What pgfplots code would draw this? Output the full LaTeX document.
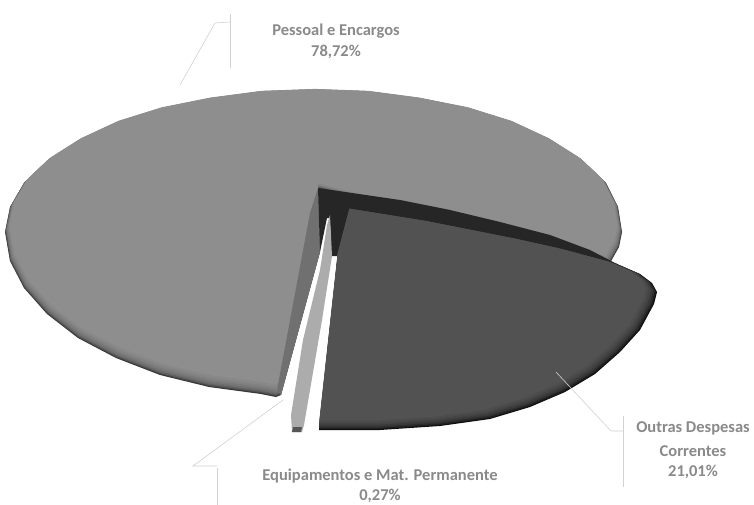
\documentclass[border=0pt]{standalone}
\usepackage{fontspec}
\setmainfont{Carlito}
\usepackage{pgfplots}
\usepackage{pgfplotstable}
\pgfplotsset{compat=1.18}
\pgfplotstableread{
x y
315 90
369 92
421 99
470 109
514 123
552 141
583 161
606 183
618 207
622 232
619 247
610 263
318 188
320 252
281 395
276 397
261 394
209 387
160 375
116 358
78 338
47 314
24 288
10 261
5 232
10 207
24 183
47 161
78 141
116 123
160 109
209 99
261 92
}\mainslice
\pgfplotstableread{
x y
350 209
430 222
520 240
565 250
617 264
640 274
652 283
657 292
654 304
640 330
620 352
595 374
565 392
530 407
490 419
440 426
380 430
319 430
338 255
}\otherslice
\definecolor{lab}{gray}{0.54}
\definecolor{lead}{gray}{0.82}
\newcommand{\mainlayer}[2]{\addplot[fill={rgb,255:red,#2;green,#2;blue,#2},draw=none] table[x expr={310+(1-0.4*#1)*(\thisrow{x}-310)},y expr={60+(1-#1)*(\thisrow{y}-60)}] {\mainslice} -- cycle;}
\newcommand{\otherlayer}[2]{\addplot[fill={rgb,255:red,#2;green,#2;blue,#2},draw=none] table[x expr={330+(1-0.8*#1)*(\thisrow{x}-330)},y expr={200+(1-#1)*(\thisrow{y}-200)}] {\otherslice} -- cycle;}
\tikzset{lbl/.style={lab,inner sep=0pt,font=\fontsize{16.5pt}{18pt}\selectfont\bfseries}}
\begin{document}
\begin{tikzpicture}
\begin{axis}[hide axis,scale only axis,width=754pt,height=505pt,xmin=0,xmax=754,ymin=0,ymax=505,y dir=reverse,clip=true]
% full-size white ground, so that the page keeps the whole frame
\addplot[fill=white,draw=none] coordinates {(0,0) (754,0) (754,505) (0,505)} -- cycle;
% main slice with darkened rim
\mainlayer{0}{55}
\mainlayer{0.003}{75}
\mainlayer{0.006}{95}
\mainlayer{0.010}{110}
\mainlayer{0.015}{120}
\mainlayer{0.021}{129}
\mainlayer{0.028}{136}
\mainlayer{0.036}{142}
% wedge side face of main slice
\addplot[fill={rgb,255:red,112;green,112;blue,112},draw=none] coordinates {(318,188) (320,252) (281,395) (277,390) (310,213)} -- cycle;
% black inner wall
\addplot[fill={rgb,255:red,38;green,38;blue,38},draw=none] coordinates {(318,188) (400,200) (450,210) (500,222) (550,235) (590,250) (617,264) (570,251) (520,241) (450,226) (350,209) (341,256) (331,256) (330,218) (327,218) (320,252)} -- cycle;
% thin slice
\addplot[fill={rgb,255:red,172;green,172;blue,172},draw=none] coordinates {(330,215) (332,256) (322,320) (304,425) (302,432) (292,432) (291,415) (303,340) (320,270) (327,225)} -- cycle;
\addplot[fill={rgb,255:red,85;green,85;blue,85},draw=none] coordinates {(293,427) (302,427) (301,432) (292,432)} -- cycle;
% other slice with darkened rim
\otherlayer{0}{15}
\otherlayer{0.004}{30}
\otherlayer{0.009}{45}
\otherlayer{0.015}{58}
\otherlayer{0.023}{68}
\otherlayer{0.032}{76}
\otherlayer{0.042}{82}
% leader lines
\addplot[lead,line width=0.6pt] coordinates {(230,14) (230,68)};
\addplot[lead,line width=0.6pt] coordinates {(230,22) (215,23) (180,85)};
\addplot[lead,line width=0.6pt] coordinates {(217,468) (217,505)};
\addplot[lead,line width=0.6pt] coordinates {(217,466) (193,466) (283,400)};
\addplot[lead,line width=0.6pt] coordinates {(623,416) (623,487)};
\addplot[lead,line width=0.6pt] coordinates {(623,431) (611,431) (556,372)};
% labels
\node[lbl] at (axis cs:336,31) {Pessoal e Encargos};
\node[lbl] at (axis cs:336,52) {78,72\%};
\node[lbl] at (axis cs:693,428) {Outras Despesas};
\node[lbl] at (axis cs:693,451) {Correntes};
\node[lbl] at (axis cs:693,472) {21,01\%};
\node[lbl] at (axis cs:380,476) {Equipamentos e Mat. Permanente};
\node[lbl] at (axis cs:380,496) {0,27\%};
\end{axis}
\end{tikzpicture}
\end{document}
